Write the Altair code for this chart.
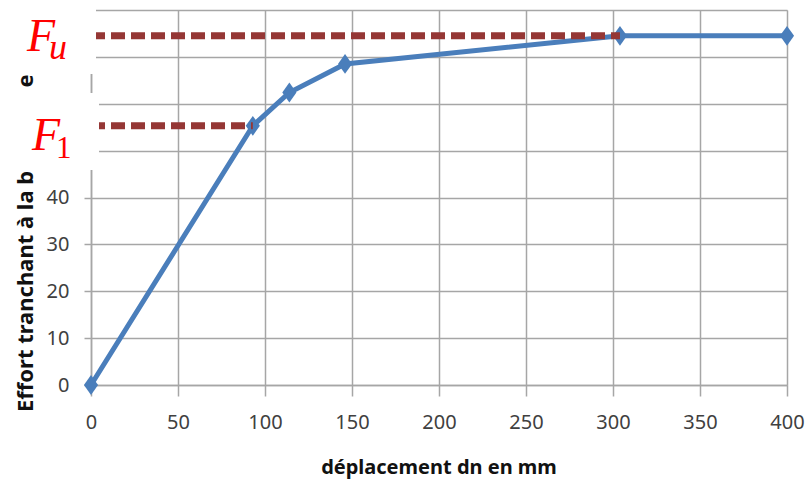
import altair as alt
import pandas as pd

# Courbe de poussée : effort tranchant à la base en fonction du déplacement
deplacement = [0, 93, 114, 146, 304, 400]
effort = [0, 55.3, 62.4, 68.5, 74.5, 74.5]

x_ticks = [0, 50, 100, 150, 200, 250, 300, 350, 400]
y_ticks = [0, 10, 20, 30, 40, 50, 60, 70, 80]

# niveaux repérés : Fu (effort ultime) et F1 (fin du domaine élastique)
niveau_nom = ["u", "1"]
niveau_effort = [74.5, 55.3]
niveau_debut = [0, 0]
niveau_fin = [304, 93]

titre_y = "Effort tranchant à la base, Vb en kN"
titre_x = "déplacement dn en mm"

courbe = pd.DataFrame({"dn": deplacement, "V": effort})
niveaux = pd.DataFrame({"nom": niveau_nom, "V": niveau_effort,
                        "x0": niveau_debut, "x1": niveau_fin})
vide = pd.DataFrame({"k": [0]})

W, H = 696, 375
GRIS = "#A6A6A6"
BLEU = "#4A7EBB"
BRIQUE = "#953735"
ROUGE = "#FF0000"

x_scale = alt.Scale(domain=[0, 400], nice=False, zero=True)
y_scale = alt.Scale(domain=[0, 80], nice=False)

axe_commun = dict(
    grid=True, gridColor=GRIS, gridWidth=1.5,
    domainColor=GRIS, domainWidth=1.5,
    tickColor=GRIS, tickWidth=1.5,
    labelFont="Noto Sans", labelFontSize=20, labelColor="#404040",
    labelFlush=False, labelOverlap=False, title=None, zindex=0,
)

x_enc = alt.X("dn:Q", scale=x_scale,
              axis=alt.Axis(values=x_ticks, tickSize=11, labelPadding=16, **axe_commun))
y_enc = alt.Y("V:Q", scale=y_scale,
              axis=alt.Axis(values=y_ticks, tickSize=7, labelPadding=15, **axe_commun))

ligne = alt.Chart(courbe).mark_line(color=BLEU, strokeWidth=5).encode(x=x_enc, y=y_enc)

points = alt.Chart(courbe).mark_point(
    shape="M0,-1.4L1,0L0,1.4L-1,0Z", size=200, filled=True, opacity=1, color=BLEU
).encode(x="dn:Q", y="V:Q")

paliers = alt.Chart(niveaux).mark_rule(
    color=BRIQUE, strokeWidth=7, strokeDash=[14, 6]
).encode(x="x0:Q", x2="x1:Q", y="V:Q")

# titres des axes
titre_vertical = alt.Chart(vide).mark_text(
    angle=270, align="left", baseline="alphabetic",
    font="Noto Sans", fontWeight="bold", fontSize=22, color="#111111",
).encode(x=alt.value(-58), y=alt.value(402), text=alt.value(titre_y))

titre_horizontal = alt.Chart(vide).mark_text(
    align="center", baseline="alphabetic",
    font="Noto Sans", fontWeight="bold", fontSize=20, color="#111111",
).encode(x=alt.value(W / 2), y=alt.value(464), text=alt.value(titre_x))

# cartouches blancs portant les étiquettes Fu et F1
cartouche_u = alt.Chart(vide).mark_rect(color="white").encode(
    x=alt.value(-91), x2=alt.value(5), y=alt.value(-10), y2=alt.value(64))
cartouche_1 = alt.Chart(vide).mark_rect(color="white").encode(
    x=alt.value(-91), x2=alt.value(8), y=alt.value(83), y2=alt.value(160))

style_F = dict(align="left", baseline="alphabetic", font="Liberation Serif",
               fontStyle="italic", color=ROUGE)

F_u = alt.Chart(vide).mark_text(fontSize=46, **style_F).encode(
    x=alt.value(-64), y=alt.value(41), text=alt.value("F"))
indice_u = alt.Chart(vide).mark_text(fontSize=36, **style_F).encode(
    x=alt.value(-42), y=alt.value(49), text=alt.value(niveau_nom[0]))
F_1 = alt.Chart(vide).mark_text(fontSize=46, **style_F).encode(
    x=alt.value(-59), y=alt.value(140), text=alt.value("F"))
indice_1 = alt.Chart(vide).mark_text(
    fontSize=31, align="left", baseline="alphabetic", font="Liberation Serif", color=ROUGE
).encode(x=alt.value(-35), y=alt.value(148), text=alt.value(niveau_nom[1]))

chart = alt.layer(
    ligne, points, paliers, titre_vertical, titre_horizontal,
    cartouche_u, cartouche_1, F_u, indice_u, F_1, indice_1,
).properties(
    width=W, height=H,
    autosize=alt.AutoSizeParams(type="none"),
    padding={"left": 91, "top": 10, "right": 21, "bottom": 97},
).configure_view(stroke=None).configure(background="white")

chart.save("out.html", embed_options={"renderer": "svg", "actions": False})
